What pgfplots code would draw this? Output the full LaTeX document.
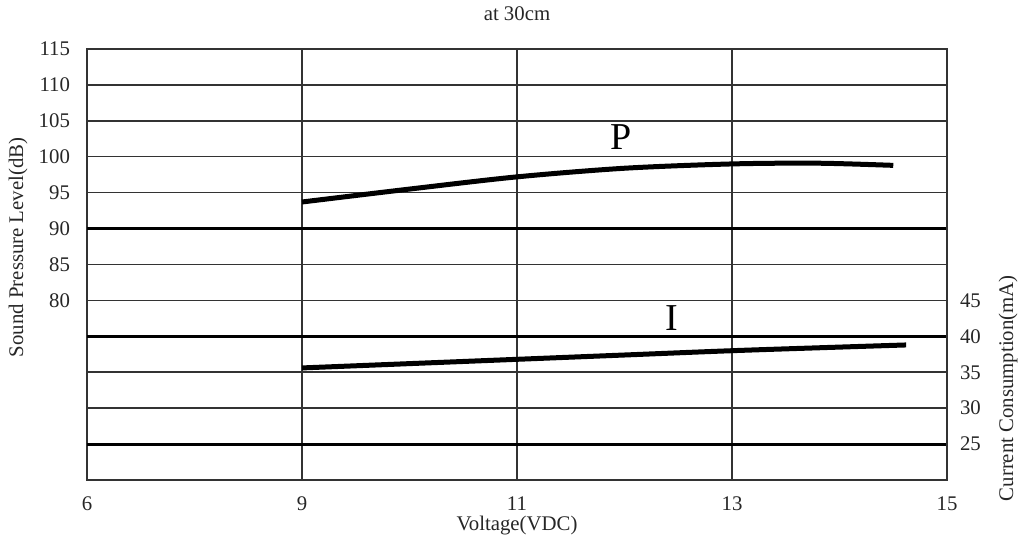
\documentclass[border=0pt]{standalone}
\usepackage{pgfplots}
\pgfplotsset{compat=1.18}
\usepackage{fontspec}
\setmainfont{Liberation Serif}

% voltage positions: 6->0, 9->1, 11->2, 13->3, 15->4
\begin{document}
\begin{tikzpicture}
\path[use as bounding box] (-43.5pt,-32pt) rectangle (466.5pt,240pt);
\pgfplotsset{
  common/.style={
    scale only axis, width=430pt, height=215.5pt,
    xmin=0, xmax=4,
    /pgf/number format/assume math mode=true,
    tick label style={font=\fontsize{10.4}{12}\selectfont, text=black!85},
    label style={font=\fontsize{10.4}{12}\selectfont, text=black!85},
    major tick length=0pt,
  }
}
\begin{axis}[
  common,
  ymin=55, ymax=115,
  xtick={0,1,2,3,4},
  xticklabels={6,9,11,13,15},
  xticklabel style={yshift=-5pt},
  ytick={60,65,...,115},
  yticklabels={,,,,80,85,90,95,100,105,110,115},
  yticklabel style={xshift=-5pt},
  grid=major,
  major grid style={black!80, line width=0.75pt},
  axis line style={black!80, line width=0.75pt},
  extra y ticks={60,75,90},
  extra y tick labels={},
  extra y tick style={grid=major, major grid style={black, line width=1.5pt}},
  xlabel={Voltage(VDC)},
  xlabel style={at={(rel axis cs:0.5,-0.105)}, anchor=center},
  ylabel={Sound Pressure Level(dB)},
  ylabel style={at={(rel axis cs:-0.080,0.54)}, anchor=center},
  title={at 30cm},
  title style={at={(rel axis cs:0.5,1.081)}, anchor=center, yshift=-6pt, font=\fontsize{10.4}{12}\selectfont, text=black!85},
]
\addplot[black, line width=2.5pt, smooth] coordinates {
(1,93.7) (1.5,95.5) (2,97.2) (2.5,98.4) (3,99.0) (3.4,99.1) (3.75,98.8)
};
\node[font=\fontsize{19}{20}\selectfont] at (axis cs:2.484,102.7) {P};
\node[font=\fontsize{19}{20}\selectfont] at (axis cs:2.72,77.5) {I};
\end{axis}
\begin{axis}[
  common,
  ymin=20, ymax=80,
  axis y line*=right,
  axis x line=none,
  ytick={25,30,...,45},
  yticklabel style={xshift=3pt},
  axis line style={black!80, line width=0.75pt},
  ylabel={Current Consumption(mA)},
  ylabel style={at={(rel axis cs:1.071,0.213)}, anchor=center, rotate=0},
]
\addplot[black, line width=2.5pt, smooth] coordinates {
(1,35.6) (1.5,36.2) (2,36.8) (2.5,37.4) (3,38.0) (3.5,38.5) (3.81,38.8)
};
\end{axis}
\end{tikzpicture}
\end{document}
